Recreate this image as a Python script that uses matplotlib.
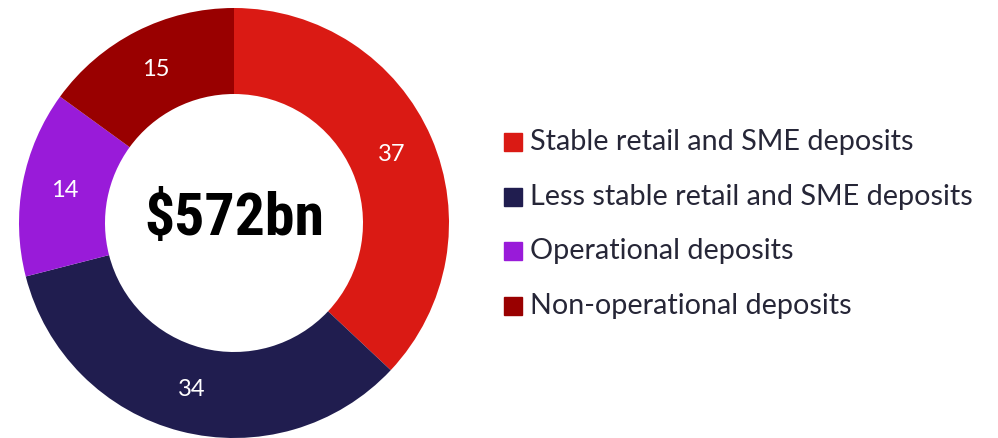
import matplotlib
matplotlib.use('Agg')
import matplotlib.pyplot as plt
from matplotlib.patches import Rectangle

#Data
categories = ["Stable retail and SME deposits",
              "Less stable retail and SME deposits",
              "Operational deposits",
              "Non-operational deposits"]
shares = [37, 34, 14, 15]
colours = ["#DA1A14", "#201D4F", "#991BD9", "#990000"]
total_label = "$572bn"

W, H = 998, 438
fig = plt.figure(figsize=(W / 100, H / 100), dpi=100)

#Donut axes - square, centre at (234, 223) px, radius 215 px
ax = fig.add_axes([19 / W, 0 / H, 430 / W, 430 / H])
wedges, texts = ax.pie(
    shares,
    colors=colours,
    startangle=90,
    counterclock=False,
    radius=1,
    labels=[str(s) for s in shares],
    labeldistance=0.8,
    wedgeprops=dict(width=0.4, linewidth=0),
    textprops=dict(color="white", fontsize=17, family="Lato"),
)
for t in texts:
    t.set_ha("center")
    t.set_va("center")
ax.set_xlim(-1, 1)
ax.set_ylim(-1, 1)
ax.axis("off")

#Centre total
ax.text(0, 0.02, total_label, ha="center", va="center",
        fontsize=43, fontweight="bold",
        family=["Roboto Condensed", "DejaVu Sans"],
        color="black")

#Legend drawn by hand
row_y = [142, 197, 251, 306]
for cat, col, y in zip(categories, colours, row_y):
    fig.patches.append(Rectangle((504 / W, 1 - (y + 9) / H), 18 / W, 18 / H,
                                 transform=fig.transFigure, color=col))
    fig.text(530 / W, 1 - y / H, cat, ha="left", va="center",
             fontsize=20.7, family="Lato", color="#262637")

fig.savefig("out.png", dpi=100)
